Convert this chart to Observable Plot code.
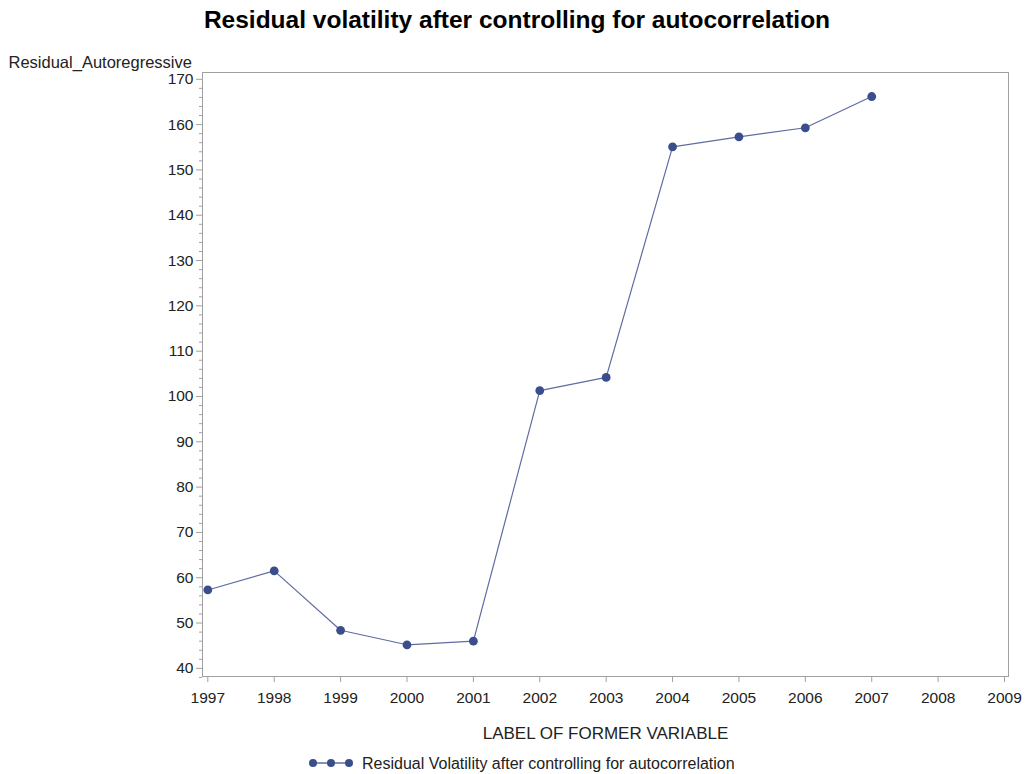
<!DOCTYPE html>
<html>
<head>
<meta charset="utf-8">
<script src="https://cdn.jsdelivr.net/npm/d3@7"></script>
<script src="https://cdn.jsdelivr.net/npm/@observablehq/plot@0.6"></script>
<style>
  body { margin: 0; background: #fff; font-family: "Liberation Sans", Arial, sans-serif; }
  #title { height: 40px; line-height: 40px; text-align: center; font-weight: bold; font-size: 24.5px; color: #000; padding-left: 8px; }
  #chart svg { display: block; }
  #legend { height: 29px; position: relative; color: #000; }
</style>
</head>
<body>
<div id="title">Residual volatility after controlling for autocorrelation</div>
<div id="chart"></div>
<div id="legend"></div>
<script>
const years = [1997, 1998, 1999, 2000, 2001, 2002, 2003, 2004, 2005, 2006, 2007];
const residual = [57.3, 61.5, 48.4, 45.2, 46.0, 101.3, 104.2, 155.1, 157.3, 159.3, 166.2];
const xTicks = [1997, 1998, 1999, 2000, 2001, 2002, 2003, 2004, 2005, 2006, 2007, 2008, 2009];
const yTicks = [40, 50, 60, 70, 80, 90, 100, 110, 120, 130, 140, 150, 160, 170];
const yMinorTicks = d3.range(38, 172, 2).filter(v => v % 10 !== 0);
const yLabel = "Residual_Autoregressive";
const xLabel = "LABEL OF FORMER VARIABLE";
const seriesName = "Residual Volatility after controlling for autocorrelation";

const data = years.map((y, i) => ({year: y, value: residual[i]}));
const lineColor = "#5f6ba3";
const dotColor = "#3b4e8c";

const chart = Plot.plot({
  width: 1026,
  height: 705,
  marginLeft: 202,
  marginRight: 18,
  marginTop: 32,
  marginBottom: 69,
  style: {fontFamily: "Liberation Sans, Arial, sans-serif", fontSize: "15.5px", color: "#222", background: "#fff"},
  x: {domain: [1996.92, 2009.06]},
  y: {domain: [38.2, 171.5]},
  marks: [
    Plot.frame({stroke: "#a0a0a0"}),
    Plot.axisY({ticks: yMinorTicks, tickSize: 3, text: null, stroke: "#a0a0a0", label: null}),
    Plot.axisY({ticks: yTicks, tickSize: 6, tickPadding: 3, stroke: "#a0a0a0", tickFormat: "d", label: null}),
    Plot.axisX({ticks: xTicks, tickSize: 6, tickPadding: 9, stroke: "#a0a0a0", tickFormat: "d", label: null}),
    Plot.text([yLabel], {frameAnchor: "top-left", dx: -194, dy: -16, textAnchor: "start", fontSize: 16.5, fill: "#222"}),
    Plot.text([xLabel], {frameAnchor: "bottom", dy: 62, fontSize: 17, fill: "#222"}),
    Plot.line(data, {x: "year", y: "value", stroke: lineColor, strokeWidth: 1.2}),
    Plot.dot(data, {x: "year", y: "value", r: 4.4, fill: dotColor, stroke: "none"})
  ]
});
document.getElementById("chart").appendChild(chart);

// legend
const legend = document.getElementById("legend");
const ns = "http://www.w3.org/2000/svg";
const lsvg = document.createElementNS(ns, "svg");
lsvg.setAttribute("width", 1026);
lsvg.setAttribute("height", 29);
lsvg.style.display = "block";
const ly = 18;
const ln = document.createElementNS(ns, "line");
ln.setAttribute("x1", 312); ln.setAttribute("x2", 350);
ln.setAttribute("y1", ly); ln.setAttribute("y2", ly);
ln.setAttribute("stroke", lineColor); ln.setAttribute("stroke-width", 1.5);
lsvg.appendChild(ln);
[313, 331, 349].forEach(cx => {
  const c = document.createElementNS(ns, "circle");
  c.setAttribute("cx", cx); c.setAttribute("cy", ly); c.setAttribute("r", 4);
  c.setAttribute("fill", dotColor);
  lsvg.appendChild(c);
});
const t = document.createElementNS(ns, "text");
t.setAttribute("x", 362); t.setAttribute("y", ly); t.setAttribute("dy", "0.35em");
t.setAttribute("font-size", 16); t.setAttribute("fill", "#222");
t.setAttribute("font-family", "Liberation Sans, Arial, sans-serif");
t.textContent = seriesName;
lsvg.appendChild(t);
legend.appendChild(lsvg);
</script>
</body>
</html>
